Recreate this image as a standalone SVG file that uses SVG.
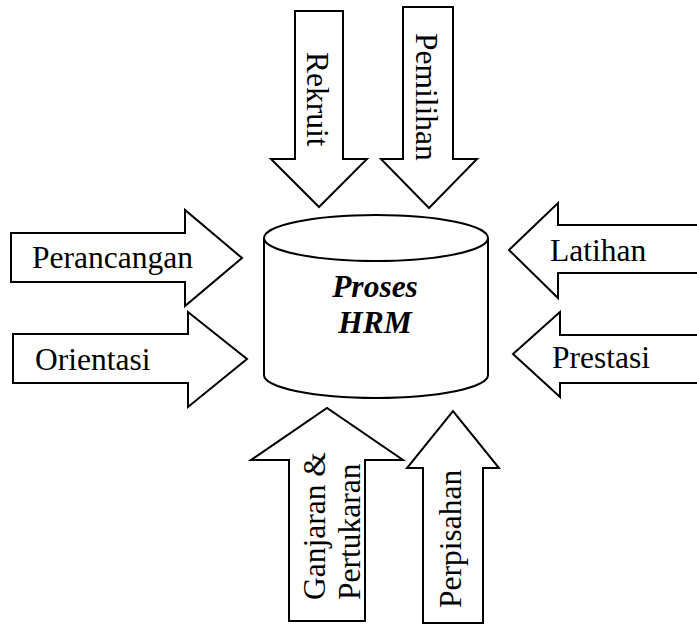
<svg xmlns="http://www.w3.org/2000/svg" width="697" height="624" viewBox="0 0 697 624">
<style>
.shape{fill:#fff;stroke:#000;stroke-width:2;stroke-linejoin:miter}
.lbl{font-family:"Liberation Serif","Times New Roman",serif;font-size:31.5px;fill:#000}
.title{font-family:"Liberation Serif","Times New Roman",serif;font-size:31.5px;font-weight:bold;font-style:italic;fill:#000;text-anchor:middle}
</style>
<rect width="697" height="624" fill="#fff"/>
<g id="nodes">
<g id="proses-hrm">
<path class="shape" d="M264,238 A112,23 0 0 1 488,238 L488,375 A112,23 0 0 1 264,375 Z"/>
<path class="shape" fill="none" d="M264,238 A112,23 0 0 0 488,238"/>
<text class="title" x="375" y="297">Proses</text>
<text class="title" x="375" y="333">HRM</text>
</g>
<g id="rekruit">
<polygon class="shape" points="295,11 343,11 343,159 367,159 319,207 271,159 295,159"/>
<text class="lbl" transform="translate(307,52) rotate(90)">Rekruit</text>
</g>
<g id="pemilihan">
<polygon class="shape" points="403,7 453,7 453,159 477,159 429,208 381,159 403,159"/>
<text class="lbl" transform="translate(416,33) rotate(90)">Pemilihan</text>
</g>
<g id="perancangan">
<polygon class="shape" points="11,233 185,233 185,210 242,258 185,306 185,282 11,282"/>
<text class="lbl" x="32" y="268">Perancangan</text>
</g>
<g id="orientasi">
<polygon class="shape" points="13,334 188,334 188,312 247,359 188,407 188,383 13,383"/>
<text class="lbl" x="35" y="370">Orientasi</text>
</g>
<g id="latihan">
<polygon class="shape" points="700,225 558,225 558,203 509,250 558,298 558,273 700,273"/>
<text class="lbl" x="550" y="261">Latihan</text>
</g>
<g id="prestasi">
<polygon class="shape" points="700,335 560,335 560,312 513,354 560,397 560,383 700,383"/>
<text class="lbl" x="552" y="368">Prestasi</text>
</g>
<g id="ganjaran-pertukaran">
<polygon class="shape" points="289,621 365,621 365,460 403,460 327,408 251,460 289,460"/>
<text class="lbl" transform="translate(325,600) rotate(-90)">Ganjaran &amp;</text>
<text class="lbl" transform="translate(360,600) rotate(-90)">Pertukaran</text>
</g>
<g id="perpisahan">
<polygon class="shape" points="423,623 483,623 483,468 499,468 453,411 407,468 423,468"/>
<text class="lbl" transform="translate(461,608) rotate(-90)">Perpisahan</text>
</g>
</g>
<g id="connectors"></g>
</svg>
